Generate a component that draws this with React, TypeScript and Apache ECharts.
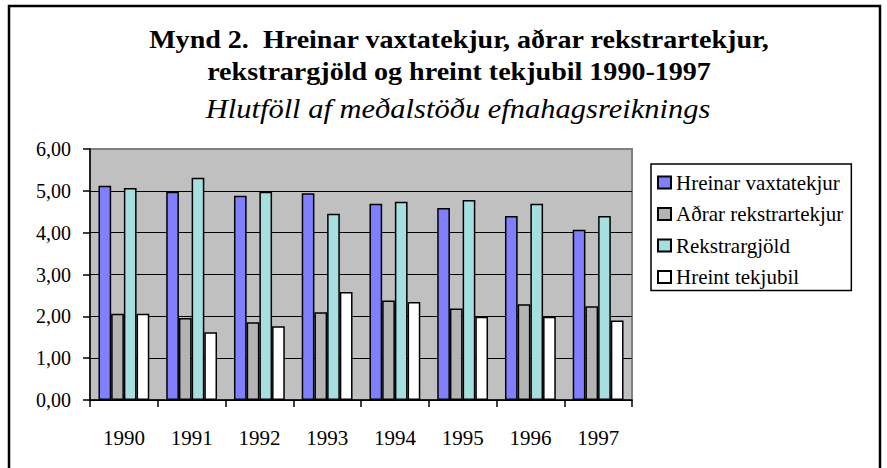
import React, { useEffect, useRef } from "react";
import * as echarts from "echarts";

const categories = ["1990", "1991", "1992", "1993", "1994", "1995", "1996", "1997"];
const seriesNames = ["Hreinar vaxtatekjur", "Aðrar rekstrartekjur", "Rekstrargjöld", "Hreint tekjubil"];
const hreinarVaxtatekjur = [5.12, 4.98, 4.88, 4.94, 4.69, 4.59, 4.4, 4.07];
const adrarRekstrartekjur = [2.06, 1.96, 1.86, 2.1, 2.38, 2.19, 2.29, 2.24];
const rekstrargjold = [5.07, 5.31, 4.98, 4.45, 4.74, 4.78, 4.69, 4.4];
const hreintTekjubil = [2.06, 1.62, 1.76, 2.58, 2.34, 1.99, 1.99, 1.9];
const seriesColors = ["#8080ff", "#b4b4b4", "#a6dfdf", "#ffffff"];
const titleLines = [
  "Mynd 2.  Hreinar vaxtatekjur, aðrar rekstrartekjur,",
  "rekstrargjöld og hreint tekjubil 1990-1997",
];
const subtitle = "Hlutföll af meðalstöðu efnahagsreiknings";

const FONT = "Liberation Serif";

export default function App() {
  const ref = useRef<HTMLDivElement>(null);
  useEffect(() => {
    if (!ref.current) return;
    const chart = echarts.init(ref.current, null, { renderer: "svg" });
    const data = [hreinarVaxtatekjur, adrarRekstrartekjur, rekstrargjold, hreintTekjubil];
    chart.setOption({
      animation: false,
      backgroundColor: "#ffffff",
      textStyle: { fontFamily: FONT },
      graphic: [
        {
          type: "rect",
          shape: { x: 9, y: 6, width: 871, height: 480 },
          style: { fill: "none", stroke: "#000", lineWidth: 2.5 },
          silent: true,
        },
        {
          type: "text",
          x: 459,
          y: 39,
          scaleX: 1.1,
          style: {
            text: titleLines[0],
            fontFamily: FONT,
            fontWeight: "bold",
            fontSize: 25.5,
            fill: "#000",
            textAlign: "center",
            textVerticalAlign: "middle",
          },
        },
        {
          type: "text",
          x: 459,
          y: 71,
          scaleX: 1.1,
          style: {
            text: titleLines[1],
            fontFamily: FONT,
            fontWeight: "bold",
            fontSize: 25.5,
            fill: "#000",
            textAlign: "center",
            textVerticalAlign: "middle",
          },
        },
        {
          type: "text",
          x: 458,
          y: 109,
          scaleX: 1.13,
          style: {
            text: subtitle,
            fontFamily: FONT,
            fontStyle: "italic",
            fontSize: 27,
            fill: "#000",
            textAlign: "center",
            textVerticalAlign: "middle",
          },
        },
      ],
      legend: {
        orient: "vertical",
        left: 651,
        top: 164,
        padding: [8, 8, 3, 6],
        itemWidth: 13,
        itemHeight: 12,
        itemGap: 10.5,
        borderColor: "#000",
        borderWidth: 1.5,
        backgroundColor: "#fff",
        icon: "rect",
        formatter: "{s|{name}}",
        textStyle: {
          fontFamily: FONT,
          fontSize: 21,
          color: "#000",
          rich: { s: { fontFamily: FONT, fontSize: 21, color: "#000", lineHeight: 21 } },
        },
        data: seriesNames,
      },
      grid: {
        left: 90,
        right: 255,
        top: 149,
        bottom: 68,
        show: true,
        backgroundColor: "#c0c0c0",
        borderColor: "#808080",
        borderWidth: 2,
      },
      xAxis: {
        type: "category",
        data: categories,
        boundaryGap: true,
        axisLine: { lineStyle: { color: "#000", width: 1.5 } },
        axisTick: { show: true, length: 7, lineStyle: { color: "#000", width: 1.5 } },
        axisLabel: { fontFamily: FONT, fontSize: 21, color: "#000", margin: 27 },
        splitLine: { show: false },
      },
      yAxis: {
        type: "value",
        min: 0,
        max: 6,
        interval: 1,
        axisLine: { show: true, lineStyle: { color: "#000", width: 1.5 } },
        axisTick: { show: true, length: 7, lineStyle: { color: "#000", width: 1.5 } },
        axisLabel: {
          fontFamily: FONT,
          fontSize: 20,
          color: "#000",
          margin: 19,
          formatter: (v: number) => v.toFixed(2).replace(".", ","),
        },
        splitLine: { show: true, showMaxLine: false, lineStyle: { color: "#000", width: 1 } },
      },
      series: seriesNames.map((name, i) => ({
        name,
        type: "bar",
        data: data[i],
        barGap: "0%",
        barCategoryGap: "25%",
        itemStyle: { color: seriesColors[i], borderColor: "#000", borderWidth: 1.5 },
      })),
    });
    return () => chart.dispose();
  }, []);
  return (
    <div
      ref={ref}
      style={{ position: "absolute", left: 0, top: 0, width: 887, height: 468 }}
    />
  );
}
